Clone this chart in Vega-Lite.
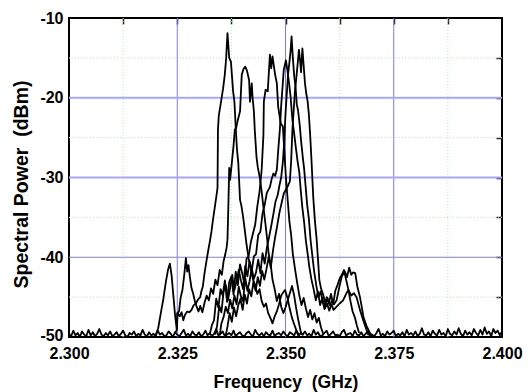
{
  "$schema": "https://vega.github.io/schema/vega-lite/v6.json",
  "width": 433,
  "height": 319,
  "autosize": {"type": "none"},
  "padding": {"left": 69, "top": 18, "right": 29, "bottom": 55},
  "background": "white",
  "config": {"view": {"stroke": "black", "strokeWidth": 2}, "font": "Liberation Sans"},
  "datasets": {
    "spectra": [
      {"s":"T1","f":2.3200,"p":-49.8},{"s":"T1","f":2.3206,"p":-48.9},{"s":"T1","f":2.3212,"p":-47.0},{"s":"T1","f":2.3218,"p":-45.2},{"s":"T1","f":2.3224,"p":-43.0},{"s":"T1","f":2.3229,"p":-41.5},{"s":"T1","f":2.3233,"p":-40.8},{"s":"T1","f":2.3237,"p":-42.3},{"s":"T1","f":2.3241,"p":-44.8},{"s":"T1","f":2.3245,"p":-47.3},{"s":"T1","f":2.3249,"p":-49.1},{"s":"T1","f":2.3251,"p":-47.0},{"s":"T1","f":2.3256,"p":-47.4},{"s":"T1","f":2.3260,"p":-46.9},{"s":"T1","f":2.3264,"p":-47.9},{"s":"T1","f":2.3268,"p":-47.2},{"s":"T1","f":2.3273,"p":-46.8},{"s":"T1","f":2.3278,"p":-46.9},{"s":"T1","f":2.3283,"p":-46.6},{"s":"T1","f":2.3288,"p":-46.0},{"s":"T1","f":2.3293,"p":-45.8},{"s":"T1","f":2.3298,"p":-45.3},{"s":"T1","f":2.3303,"p":-45.0},{"s":"T1","f":2.3306,"p":-44.2},{"s":"T1","f":2.3309,"p":-43.7},{"s":"T1","f":2.3313,"p":-42.0},{"s":"T1","f":2.3318,"p":-40.3},{"s":"T1","f":2.3322,"p":-39.0},{"s":"T1","f":2.3326,"p":-37.8},{"s":"T1","f":2.3329,"p":-36.8},{"s":"T1","f":2.3332,"p":-35.5},{"s":"T1","f":2.3336,"p":-34.0},{"s":"T1","f":2.3340,"p":-32.5},{"s":"T1","f":2.3343,"p":-31.3},{"s":"T1","f":2.3344,"p":-24.0},{"s":"T1","f":2.3346,"p":-22.2},{"s":"T1","f":2.3350,"p":-20.9},{"s":"T1","f":2.3356,"p":-18.8},{"s":"T1","f":2.3360,"p":-17.0},{"s":"T1","f":2.3363,"p":-15.0},{"s":"T1","f":2.3366,"p":-11.9},{"s":"T1","f":2.3370,"p":-15.0},{"s":"T1","f":2.3374,"p":-15.5},{"s":"T1","f":2.3379,"p":-19.2},{"s":"T1","f":2.3382,"p":-20.5},{"s":"T1","f":2.3386,"p":-24.7},{"s":"T1","f":2.3388,"p":-26.5},{"s":"T1","f":2.3391,"p":-28.2},{"s":"T1","f":2.3395,"p":-32.8},{"s":"T1","f":2.3398,"p":-33.5},{"s":"T1","f":2.3402,"p":-34.9},{"s":"T1","f":2.3406,"p":-36.6},{"s":"T1","f":2.3410,"p":-38.4},{"s":"T1","f":2.3415,"p":-40.2},{"s":"T1","f":2.3420,"p":-41.5},{"s":"T1","f":2.3425,"p":-42.8},{"s":"T1","f":2.3430,"p":-43.5},{"s":"T1","f":2.3435,"p":-44.6},{"s":"T1","f":2.3440,"p":-44.0},{"s":"T1","f":2.3445,"p":-45.5},{"s":"T1","f":2.3450,"p":-46.2},{"s":"T1","f":2.3455,"p":-45.8},{"s":"T1","f":2.3460,"p":-47.0},{"s":"T1","f":2.3465,"p":-47.6},{"s":"T1","f":2.3470,"p":-48.3},{"s":"T1","f":2.3475,"p":-47.4},{"s":"T1","f":2.3480,"p":-46.8},{"s":"T1","f":2.3485,"p":-45.9},{"s":"T1","f":2.3490,"p":-44.8},{"s":"T1","f":2.3495,"p":-44.4},{"s":"T1","f":2.3499,"p":-44.1},{"s":"T1","f":2.3505,"p":-45.2},{"s":"T1","f":2.3510,"p":-46.5},{"s":"T1","f":2.3515,"p":-47.6},{"s":"T1","f":2.3520,"p":-48.4},{"s":"T1","f":2.3526,"p":-49.3},{"s":"T1","f":2.3532,"p":-49.8},
      {"s":"T2","f":2.3244,"p":-49.6},{"s":"T2","f":2.3249,"p":-49.1},{"s":"T2","f":2.3250,"p":-47.0},{"s":"T2","f":2.3254,"p":-46.8},{"s":"T2","f":2.3258,"p":-45.0},{"s":"T2","f":2.3262,"p":-44.1},{"s":"T2","f":2.3266,"p":-42.3},{"s":"T2","f":2.3270,"p":-40.1},{"s":"T2","f":2.3273,"p":-41.8},{"s":"T2","f":2.3276,"p":-41.0},{"s":"T2","f":2.3279,"p":-42.4},{"s":"T2","f":2.3283,"p":-43.9},{"s":"T2","f":2.3287,"p":-44.6},{"s":"T2","f":2.3291,"p":-45.6},{"s":"T2","f":2.3295,"p":-46.2},{"s":"T2","f":2.3299,"p":-46.8},{"s":"T2","f":2.3303,"p":-46.1},{"s":"T2","f":2.3308,"p":-46.9},{"s":"T2","f":2.3313,"p":-45.7},{"s":"T2","f":2.3318,"p":-44.8},{"s":"T2","f":2.3323,"p":-45.4},{"s":"T2","f":2.3328,"p":-43.9},{"s":"T2","f":2.3333,"p":-44.6},{"s":"T2","f":2.3338,"p":-42.8},{"s":"T2","f":2.3343,"p":-43.5},{"s":"T2","f":2.3348,"p":-41.6},{"s":"T2","f":2.3353,"p":-42.2},{"s":"T2","f":2.3357,"p":-40.5},{"s":"T2","f":2.3361,"p":-39.6},{"s":"T2","f":2.3364,"p":-38.8},{"s":"T2","f":2.3366,"p":-37.8},{"s":"T2","f":2.3368,"p":-33.7},{"s":"T2","f":2.3370,"p":-28.8},{"s":"T2","f":2.3372,"p":-30.3},{"s":"T2","f":2.3376,"p":-28.2},{"s":"T2","f":2.3380,"p":-26.0},{"s":"T2","f":2.3383,"p":-24.0},{"s":"T2","f":2.3386,"p":-23.8},{"s":"T2","f":2.3389,"p":-23.0},{"s":"T2","f":2.3395,"p":-21.7},{"s":"T2","f":2.3399,"p":-17.1},{"s":"T2","f":2.3403,"p":-16.4},{"s":"T2","f":2.3407,"p":-16.1},{"s":"T2","f":2.3411,"p":-16.6},{"s":"T2","f":2.3416,"p":-17.8},{"s":"T2","f":2.3418,"p":-20.5},{"s":"T2","f":2.3422,"p":-18.2},{"s":"T2","f":2.3424,"p":-20.0},{"s":"T2","f":2.3427,"p":-21.7},{"s":"T2","f":2.3429,"p":-24.0},{"s":"T2","f":2.3433,"p":-27.4},{"s":"T2","f":2.3436,"p":-28.7},{"s":"T2","f":2.3441,"p":-30.1},{"s":"T2","f":2.3445,"p":-31.8},{"s":"T2","f":2.3449,"p":-33.7},{"s":"T2","f":2.3453,"p":-35.5},{"s":"T2","f":2.3457,"p":-37.4},{"s":"T2","f":2.3461,"p":-39.5},{"s":"T2","f":2.3466,"p":-41.0},{"s":"T2","f":2.3470,"p":-42.8},{"s":"T2","f":2.3475,"p":-44.0},{"s":"T2","f":2.3480,"p":-45.5},{"s":"T2","f":2.3485,"p":-44.6},{"s":"T2","f":2.3490,"p":-46.2},{"s":"T2","f":2.3495,"p":-47.0},{"s":"T2","f":2.3500,"p":-46.3},{"s":"T2","f":2.3505,"p":-45.4},{"s":"T2","f":2.3510,"p":-44.5},{"s":"T2","f":2.3515,"p":-43.6},{"s":"T2","f":2.3520,"p":-44.8},{"s":"T2","f":2.3525,"p":-46.5},{"s":"T2","f":2.3530,"p":-48.0},{"s":"T2","f":2.3535,"p":-49.3},{"s":"T2","f":2.3540,"p":-49.8},
      {"s":"T3","f":2.3325,"p":-49.7},{"s":"T3","f":2.3330,"p":-48.5},{"s":"T3","f":2.3335,"p":-47.9},{"s":"T3","f":2.3340,"p":-45.2},{"s":"T3","f":2.3345,"p":-46.3},{"s":"T3","f":2.3350,"p":-44.0},{"s":"T3","f":2.3355,"p":-44.8},{"s":"T3","f":2.3360,"p":-42.9},{"s":"T3","f":2.3365,"p":-45.6},{"s":"T3","f":2.3370,"p":-43.1},{"s":"T3","f":2.3375,"p":-42.4},{"s":"T3","f":2.3380,"p":-44.7},{"s":"T3","f":2.3385,"p":-41.8},{"s":"T3","f":2.3390,"p":-43.5},{"s":"T3","f":2.3395,"p":-40.9},{"s":"T3","f":2.3400,"p":-42.0},{"s":"T3","f":2.3405,"p":-43.3},{"s":"T3","f":2.3410,"p":-40.2},{"s":"T3","f":2.3415,"p":-39.8},{"s":"T3","f":2.3420,"p":-38.1},{"s":"T3","f":2.3425,"p":-37.0},{"s":"T3","f":2.3430,"p":-35.9},{"s":"T3","f":2.3435,"p":-33.6},{"s":"T3","f":2.3440,"p":-31.8},{"s":"T3","f":2.3445,"p":-29.0},{"s":"T3","f":2.3449,"p":-24.7},{"s":"T3","f":2.3450,"p":-20.5},{"s":"T3","f":2.3454,"p":-19.0},{"s":"T3","f":2.3459,"p":-19.2},{"s":"T3","f":2.3464,"p":-14.6},{"s":"T3","f":2.3467,"p":-16.3},{"s":"T3","f":2.3470,"p":-14.8},{"s":"T3","f":2.3476,"p":-17.1},{"s":"T3","f":2.3480,"p":-18.2},{"s":"T3","f":2.3483,"p":-21.1},{"s":"T3","f":2.3489,"p":-23.2},{"s":"T3","f":2.3494,"p":-23.6},{"s":"T3","f":2.3497,"p":-26.5},{"s":"T3","f":2.3501,"p":-30.0},{"s":"T3","f":2.3505,"p":-32.8},{"s":"T3","f":2.3509,"p":-35.5},{"s":"T3","f":2.3513,"p":-37.2},{"s":"T3","f":2.3517,"p":-39.6},{"s":"T3","f":2.3522,"p":-41.5},{"s":"T3","f":2.3527,"p":-43.2},{"s":"T3","f":2.3532,"p":-44.8},{"s":"T3","f":2.3537,"p":-46.0},{"s":"T3","f":2.3542,"p":-45.1},{"s":"T3","f":2.3547,"p":-46.4},{"s":"T3","f":2.3552,"p":-47.5},{"s":"T3","f":2.3557,"p":-46.6},{"s":"T3","f":2.3562,"p":-47.8},{"s":"T3","f":2.3567,"p":-47.0},{"s":"T3","f":2.3572,"p":-48.2},{"s":"T3","f":2.3577,"p":-47.6},{"s":"T3","f":2.3582,"p":-48.8},{"s":"T3","f":2.3587,"p":-49.6},
      {"s":"T4","f":2.3338,"p":-49.7},{"s":"T4","f":2.3342,"p":-48.6},{"s":"T4","f":2.3347,"p":-46.1},{"s":"T4","f":2.3352,"p":-46.9},{"s":"T4","f":2.3357,"p":-44.3},{"s":"T4","f":2.3362,"p":-43.5},{"s":"T4","f":2.3367,"p":-45.4},{"s":"T4","f":2.3372,"p":-43.9},{"s":"T4","f":2.3377,"p":-42.2},{"s":"T4","f":2.3382,"p":-44.1},{"s":"T4","f":2.3387,"p":-43.0},{"s":"T4","f":2.3392,"p":-41.6},{"s":"T4","f":2.3397,"p":-42.9},{"s":"T4","f":2.3402,"p":-44.0},{"s":"T4","f":2.3407,"p":-41.1},{"s":"T4","f":2.3412,"p":-42.4},{"s":"T4","f":2.3417,"p":-40.5},{"s":"T4","f":2.3422,"p":-41.7},{"s":"T4","f":2.3427,"p":-39.9},{"s":"T4","f":2.3432,"p":-39.6},{"s":"T4","f":2.3437,"p":-37.2},{"s":"T4","f":2.3442,"p":-36.8},{"s":"T4","f":2.3447,"p":-34.5},{"s":"T4","f":2.3452,"p":-33.4},{"s":"T4","f":2.3457,"p":-31.9},{"s":"T4","f":2.3464,"p":-31.2},{"s":"T4","f":2.3468,"p":-30.2},{"s":"T4","f":2.3472,"p":-29.5},{"s":"T4","f":2.3476,"p":-29.8},{"s":"T4","f":2.3480,"p":-29.0},{"s":"T4","f":2.3484,"p":-26.0},{"s":"T4","f":2.3487,"p":-24.0},{"s":"T4","f":2.3490,"p":-21.0},{"s":"T4","f":2.3493,"p":-18.8},{"s":"T4","f":2.3496,"p":-16.5},{"s":"T4","f":2.3501,"p":-15.3},{"s":"T4","f":2.3505,"p":-16.8},{"s":"T4","f":2.3509,"p":-18.5},{"s":"T4","f":2.3512,"p":-20.0},{"s":"T4","f":2.3516,"p":-22.8},{"s":"T4","f":2.3520,"p":-24.5},{"s":"T4","f":2.3524,"p":-26.3},{"s":"T4","f":2.3528,"p":-28.0},{"s":"T4","f":2.3532,"p":-29.4},{"s":"T4","f":2.3535,"p":-31.5},{"s":"T4","f":2.3539,"p":-33.8},{"s":"T4","f":2.3543,"p":-35.6},{"s":"T4","f":2.3547,"p":-37.9},{"s":"T4","f":2.3551,"p":-39.5},{"s":"T4","f":2.3555,"p":-41.2},{"s":"T4","f":2.3560,"p":-42.8},{"s":"T4","f":2.3565,"p":-44.0},{"s":"T4","f":2.3570,"p":-45.4},{"s":"T4","f":2.3575,"p":-44.3},{"s":"T4","f":2.3580,"p":-46.0},{"s":"T4","f":2.3585,"p":-45.1},{"s":"T4","f":2.3590,"p":-46.5},{"s":"T4","f":2.3595,"p":-45.0},{"s":"T4","f":2.3600,"p":-45.8},{"s":"T4","f":2.3605,"p":-44.6},{"s":"T4","f":2.3610,"p":-45.9},{"s":"T4","f":2.3615,"p":-44.2},{"s":"T4","f":2.3620,"p":-43.5},{"s":"T4","f":2.3625,"p":-42.7},{"s":"T4","f":2.3630,"p":-42.2},{"s":"T4","f":2.3635,"p":-41.6},{"s":"T4","f":2.3640,"p":-42.8},{"s":"T4","f":2.3645,"p":-44.0},{"s":"T4","f":2.3650,"p":-45.5},{"s":"T4","f":2.3655,"p":-46.8},{"s":"T4","f":2.3660,"p":-47.5},{"s":"T4","f":2.3665,"p":-48.6},{"s":"T4","f":2.3670,"p":-49.5},
      {"s":"T5","f":2.3348,"p":-49.8},{"s":"T5","f":2.3352,"p":-48.3},{"s":"T5","f":2.3357,"p":-47.5},{"s":"T5","f":2.3362,"p":-46.2},{"s":"T5","f":2.3367,"p":-47.0},{"s":"T5","f":2.3372,"p":-45.3},{"s":"T5","f":2.3377,"p":-46.4},{"s":"T5","f":2.3382,"p":-44.8},{"s":"T5","f":2.3387,"p":-45.9},{"s":"T5","f":2.3392,"p":-43.7},{"s":"T5","f":2.3397,"p":-44.9},{"s":"T5","f":2.3402,"p":-45.5},{"s":"T5","f":2.3407,"p":-42.6},{"s":"T5","f":2.3412,"p":-44.2},{"s":"T5","f":2.3417,"p":-43.0},{"s":"T5","f":2.3422,"p":-41.4},{"s":"T5","f":2.3427,"p":-42.7},{"s":"T5","f":2.3432,"p":-41.9},{"s":"T5","f":2.3437,"p":-40.3},{"s":"T5","f":2.3442,"p":-42.0},{"s":"T5","f":2.3447,"p":-39.5},{"s":"T5","f":2.3452,"p":-40.8},{"s":"T5","f":2.3457,"p":-38.8},{"s":"T5","f":2.3462,"p":-37.5},{"s":"T5","f":2.3467,"p":-36.1},{"s":"T5","f":2.3472,"p":-34.6},{"s":"T5","f":2.3477,"p":-33.0},{"s":"T5","f":2.3482,"p":-32.2},{"s":"T5","f":2.3486,"p":-31.0},{"s":"T5","f":2.3490,"p":-30.0},{"s":"T5","f":2.3494,"p":-28.0},{"s":"T5","f":2.3497,"p":-25.5},{"s":"T5","f":2.3500,"p":-22.0},{"s":"T5","f":2.3503,"p":-19.5},{"s":"T5","f":2.3506,"p":-17.0},{"s":"T5","f":2.3509,"p":-15.6},{"s":"T5","f":2.3512,"p":-14.0},{"s":"T5","f":2.3514,"p":-12.3},{"s":"T5","f":2.3517,"p":-15.0},{"s":"T5","f":2.3520,"p":-17.2},{"s":"T5","f":2.3523,"p":-18.5},{"s":"T5","f":2.3526,"p":-20.8},{"s":"T5","f":2.3529,"p":-21.6},{"s":"T5","f":2.3533,"p":-23.5},{"s":"T5","f":2.3536,"p":-25.4},{"s":"T5","f":2.3540,"p":-27.5},{"s":"T5","f":2.3543,"p":-28.9},{"s":"T5","f":2.3546,"p":-30.8},{"s":"T5","f":2.3550,"p":-33.4},{"s":"T5","f":2.3554,"p":-35.2},{"s":"T5","f":2.3558,"p":-37.9},{"s":"T5","f":2.3562,"p":-39.8},{"s":"T5","f":2.3566,"p":-41.7},{"s":"T5","f":2.3571,"p":-43.5},{"s":"T5","f":2.3576,"p":-45.0},{"s":"T5","f":2.3581,"p":-44.3},{"s":"T5","f":2.3586,"p":-45.6},{"s":"T5","f":2.3591,"p":-46.4},{"s":"T5","f":2.3596,"p":-45.8},{"s":"T5","f":2.3601,"p":-46.7},{"s":"T5","f":2.3606,"p":-45.9},{"s":"T5","f":2.3611,"p":-46.6},{"s":"T5","f":2.3618,"p":-46.2},{"s":"T5","f":2.3625,"p":-45.8},{"s":"T5","f":2.3633,"p":-45.4},{"s":"T5","f":2.3640,"p":-44.6},{"s":"T5","f":2.3645,"p":-44.1},{"s":"T5","f":2.3652,"p":-44.8},{"s":"T5","f":2.3658,"p":-44.5},{"s":"T5","f":2.3664,"p":-45.0},{"s":"T5","f":2.3672,"p":-46.6},{"s":"T5","f":2.3680,"p":-48.0},{"s":"T5","f":2.3687,"p":-49.1},{"s":"T5","f":2.3692,"p":-49.8},
      {"s":"T6","f":2.3362,"p":-49.8},{"s":"T6","f":2.3366,"p":-48.7},{"s":"T6","f":2.3371,"p":-47.0},{"s":"T6","f":2.3376,"p":-48.1},{"s":"T6","f":2.3381,"p":-46.3},{"s":"T6","f":2.3386,"p":-47.4},{"s":"T6","f":2.3391,"p":-46.0},{"s":"T6","f":2.3396,"p":-45.2},{"s":"T6","f":2.3401,"p":-46.6},{"s":"T6","f":2.3406,"p":-44.7},{"s":"T6","f":2.3411,"p":-45.8},{"s":"T6","f":2.3416,"p":-44.0},{"s":"T6","f":2.3421,"p":-44.9},{"s":"T6","f":2.3426,"p":-43.1},{"s":"T6","f":2.3431,"p":-44.2},{"s":"T6","f":2.3436,"p":-42.5},{"s":"T6","f":2.3441,"p":-43.6},{"s":"T6","f":2.3446,"p":-41.7},{"s":"T6","f":2.3451,"p":-42.8},{"s":"T6","f":2.3456,"p":-41.5},{"s":"T6","f":2.3461,"p":-40.0},{"s":"T6","f":2.3466,"p":-41.3},{"s":"T6","f":2.3471,"p":-39.2},{"s":"T6","f":2.3476,"p":-37.5},{"s":"T6","f":2.3481,"p":-36.0},{"s":"T6","f":2.3486,"p":-34.4},{"s":"T6","f":2.3491,"p":-33.2},{"s":"T6","f":2.3496,"p":-32.0},{"s":"T6","f":2.3501,"p":-31.5},{"s":"T6","f":2.3506,"p":-31.0},{"s":"T6","f":2.3510,"p":-30.5},{"s":"T6","f":2.3513,"p":-28.0},{"s":"T6","f":2.3516,"p":-24.0},{"s":"T6","f":2.3519,"p":-21.5},{"s":"T6","f":2.3522,"p":-19.0},{"s":"T6","f":2.3525,"p":-17.5},{"s":"T6","f":2.3528,"p":-15.8},{"s":"T6","f":2.3531,"p":-14.0},{"s":"T6","f":2.3534,"p":-15.5},{"s":"T6","f":2.3536,"p":-16.8},{"s":"T6","f":2.3539,"p":-13.8},{"s":"T6","f":2.3542,"p":-16.0},{"s":"T6","f":2.3545,"p":-18.2},{"s":"T6","f":2.3548,"p":-19.5},{"s":"T6","f":2.3551,"p":-20.4},{"s":"T6","f":2.3554,"p":-22.1},{"s":"T6","f":2.3557,"p":-24.7},{"s":"T6","f":2.3560,"p":-27.8},{"s":"T6","f":2.3564,"p":-32.4},{"s":"T6","f":2.3568,"p":-35.5},{"s":"T6","f":2.3572,"p":-37.8},{"s":"T6","f":2.3575,"p":-40.2},{"s":"T6","f":2.3578,"p":-42.8},{"s":"T6","f":2.3582,"p":-43.9},{"s":"T6","f":2.3587,"p":-44.7},{"s":"T6","f":2.3592,"p":-45.8},{"s":"T6","f":2.3597,"p":-45.1},{"s":"T6","f":2.3602,"p":-46.0},{"s":"T6","f":2.3607,"p":-45.5},{"s":"T6","f":2.3612,"p":-45.9},{"s":"T6","f":2.3618,"p":-45.4},{"s":"T6","f":2.3624,"p":-43.8},{"s":"T6","f":2.3630,"p":-42.4},{"s":"T6","f":2.3637,"p":-41.8},{"s":"T6","f":2.3642,"p":-42.5},{"s":"T6","f":2.3647,"p":-41.3},{"s":"T6","f":2.3652,"p":-42.2},{"s":"T6","f":2.3656,"p":-41.9},{"s":"T6","f":2.3661,"p":-42.0},{"s":"T6","f":2.3666,"p":-43.7},{"s":"T6","f":2.3672,"p":-45.0},{"s":"T6","f":2.3676,"p":-46.2},{"s":"T6","f":2.3680,"p":-47.5},{"s":"T6","f":2.3687,"p":-48.6},{"s":"T6","f":2.3695,"p":-49.5},{"s":"T6","f":2.3700,"p":-49.8},
      {"s":"F","f":2.3000,"p":-49.6},{"s":"F","f":2.3005,"p":-49.9},{"s":"F","f":2.3010,"p":-49.2},{"s":"F","f":2.3015,"p":-49.8},{"s":"F","f":2.3020,"p":-49.5},{"s":"F","f":2.3025,"p":-50.0},{"s":"F","f":2.3030,"p":-49.3},{"s":"F","f":2.3035,"p":-49.7},{"s":"F","f":2.3040,"p":-49.9},{"s":"F","f":2.3045,"p":-49.1},
      {"s":"F","f":2.3050,"p":-49.8},{"s":"F","f":2.3055,"p":-49.4},{"s":"F","f":2.3060,"p":-49.9},{"s":"F","f":2.3065,"p":-49.6},{"s":"F","f":2.3070,"p":-49.0},{"s":"F","f":2.3075,"p":-49.7},{"s":"F","f":2.3080,"p":-49.9},{"s":"F","f":2.3085,"p":-49.5},{"s":"F","f":2.3090,"p":-49.8},{"s":"F","f":2.3095,"p":-49.3},
      {"s":"F","f":2.3100,"p":-49.9},{"s":"F","f":2.3105,"p":-49.7},{"s":"F","f":2.3110,"p":-49.4},{"s":"F","f":2.3115,"p":-49.9},{"s":"F","f":2.3120,"p":-49.6},{"s":"F","f":2.3125,"p":-49.2},{"s":"F","f":2.3130,"p":-49.8},{"s":"F","f":2.3135,"p":-50.0},{"s":"F","f":2.3140,"p":-49.5},{"s":"F","f":2.3145,"p":-49.7},
      {"s":"F","f":2.3150,"p":-49.3},{"s":"F","f":2.3155,"p":-49.9},{"s":"F","f":2.3160,"p":-49.6},{"s":"F","f":2.3165,"p":-49.8},{"s":"F","f":2.3170,"p":-49.1},{"s":"F","f":2.3175,"p":-49.7},{"s":"F","f":2.3180,"p":-49.9},{"s":"F","f":2.3185,"p":-49.4},{"s":"F","f":2.3190,"p":-49.8},{"s":"F","f":2.3195,"p":-49.6},
      {"s":"F","f":2.3200,"p":-49.9},{"s":"F","f":2.3205,"p":-49.2},{"s":"F","f":2.3210,"p":-49.7},{"s":"F","f":2.3215,"p":-49.5},{"s":"F","f":2.3220,"p":-49.9},{"s":"F","f":2.3225,"p":-49.8},{"s":"F","f":2.3230,"p":-49.3},{"s":"F","f":2.3235,"p":-49.6},{"s":"F","f":2.3240,"p":-50.0},{"s":"F","f":2.3245,"p":-49.4},
      {"s":"F","f":2.3250,"p":-49.7},{"s":"F","f":2.3255,"p":-49.9},{"s":"F","f":2.3260,"p":-49.5},{"s":"F","f":2.3265,"p":-49.1},{"s":"F","f":2.3270,"p":-49.8},{"s":"F","f":2.3275,"p":-49.6},{"s":"F","f":2.3280,"p":-49.9},{"s":"F","f":2.3285,"p":-49.3},{"s":"F","f":2.3290,"p":-49.7},{"s":"F","f":2.3295,"p":-49.8},
      {"s":"F","f":2.3300,"p":-49.4},{"s":"F","f":2.3305,"p":-49.9},{"s":"F","f":2.3310,"p":-49.7},{"s":"F","f":2.3315,"p":-49.2},{"s":"F","f":2.3320,"p":-49.8},{"s":"F","f":2.3325,"p":-49.5},{"s":"F","f":2.3330,"p":-49.9},{"s":"F","f":2.3335,"p":-49.6},{"s":"F","f":2.3340,"p":-49.0},{"s":"F","f":2.3345,"p":-49.8},
      {"s":"F","f":2.3350,"p":-49.6},{"s":"F","f":2.3355,"p":-49.3},{"s":"F","f":2.3360,"p":-49.9},{"s":"F","f":2.3365,"p":-49.7},{"s":"F","f":2.3370,"p":-49.5},{"s":"F","f":2.3375,"p":-49.8},{"s":"F","f":2.3380,"p":-49.2},{"s":"F","f":2.3385,"p":-49.9},{"s":"F","f":2.3390,"p":-49.6},{"s":"F","f":2.3395,"p":-49.4},
      {"s":"F","f":2.3400,"p":-49.8},{"s":"F","f":2.3405,"p":-49.9},{"s":"F","f":2.3410,"p":-49.5},{"s":"F","f":2.3415,"p":-49.3},{"s":"F","f":2.3420,"p":-49.7},{"s":"F","f":2.3425,"p":-49.9},{"s":"F","f":2.3430,"p":-49.1},{"s":"F","f":2.3435,"p":-49.6},{"s":"F","f":2.3440,"p":-49.8},{"s":"F","f":2.3445,"p":-49.5},
      {"s":"F","f":2.3450,"p":-49.9},{"s":"F","f":2.3455,"p":-49.4},{"s":"F","f":2.3460,"p":-49.7},{"s":"F","f":2.3465,"p":-49.8},{"s":"F","f":2.3470,"p":-49.2},{"s":"F","f":2.3475,"p":-49.9},{"s":"F","f":2.3480,"p":-49.6},{"s":"F","f":2.3485,"p":-49.5},{"s":"F","f":2.3490,"p":-49.8},{"s":"F","f":2.3495,"p":-49.3},
      {"s":"F","f":2.3500,"p":-49.7},{"s":"F","f":2.3505,"p":-49.9},{"s":"F","f":2.3510,"p":-49.4},{"s":"F","f":2.3515,"p":-49.6},{"s":"F","f":2.3520,"p":-49.8},{"s":"F","f":2.3525,"p":-49.2},{"s":"F","f":2.3530,"p":-49.9},{"s":"F","f":2.3535,"p":-49.5},{"s":"F","f":2.3540,"p":-49.7},{"s":"F","f":2.3545,"p":-49.3},
      {"s":"F","f":2.3550,"p":-49.8},{"s":"F","f":2.3555,"p":-49.6},{"s":"F","f":2.3560,"p":-49.9},{"s":"F","f":2.3565,"p":-49.1},{"s":"F","f":2.3570,"p":-49.7},{"s":"F","f":2.3575,"p":-49.4},{"s":"F","f":2.3580,"p":-49.9},{"s":"F","f":2.3585,"p":-49.8},{"s":"F","f":2.3590,"p":-49.5},{"s":"F","f":2.3595,"p":-49.2},
      {"s":"F","f":2.3600,"p":-49.9},{"s":"F","f":2.3605,"p":-49.6},{"s":"F","f":2.3610,"p":-49.3},{"s":"F","f":2.3615,"p":-49.8},{"s":"F","f":2.3620,"p":-49.7},{"s":"F","f":2.3625,"p":-49.9},{"s":"F","f":2.3630,"p":-49.4},{"s":"F","f":2.3635,"p":-49.1},{"s":"F","f":2.3640,"p":-49.8},{"s":"F","f":2.3645,"p":-49.6},
      {"s":"F","f":2.3650,"p":-49.5},{"s":"F","f":2.3655,"p":-49.9},{"s":"F","f":2.3660,"p":-49.2},{"s":"F","f":2.3665,"p":-49.7},{"s":"F","f":2.3670,"p":-49.8},{"s":"F","f":2.3675,"p":-49.4},{"s":"F","f":2.3680,"p":-49.9},{"s":"F","f":2.3685,"p":-49.6},{"s":"F","f":2.3690,"p":-49.3},{"s":"F","f":2.3695,"p":-49.8},
      {"s":"F","f":2.3700,"p":-49.7},{"s":"F","f":2.3705,"p":-49.9},{"s":"F","f":2.3710,"p":-49.5},{"s":"F","f":2.3715,"p":-49.0},{"s":"F","f":2.3720,"p":-49.8},{"s":"F","f":2.3725,"p":-49.6},{"s":"F","f":2.3730,"p":-49.9},{"s":"F","f":2.3735,"p":-49.3},{"s":"F","f":2.3740,"p":-49.7},{"s":"F","f":2.3745,"p":-49.5},
      {"s":"F","f":2.3750,"p":-49.2},{"s":"F","f":2.3755,"p":-49.9},{"s":"F","f":2.3760,"p":-49.6},{"s":"F","f":2.3765,"p":-49.8},{"s":"F","f":2.3770,"p":-49.4},{"s":"F","f":2.3775,"p":-49.9},{"s":"F","f":2.3780,"p":-49.1},{"s":"F","f":2.3785,"p":-49.7},{"s":"F","f":2.3790,"p":-49.5},{"s":"F","f":2.3795,"p":-49.8},
      {"s":"F","f":2.3800,"p":-49.3},{"s":"F","f":2.3805,"p":-49.9},{"s":"F","f":2.3810,"p":-49.6},{"s":"F","f":2.3815,"p":-48.9},{"s":"F","f":2.3820,"p":-49.7},{"s":"F","f":2.3825,"p":-49.8},{"s":"F","f":2.3830,"p":-49.4},{"s":"F","f":2.3835,"p":-49.9},{"s":"F","f":2.3840,"p":-49.2},{"s":"F","f":2.3845,"p":-49.6},
      {"s":"F","f":2.3850,"p":-49.8},{"s":"F","f":2.3855,"p":-49.1},{"s":"F","f":2.3860,"p":-49.7},{"s":"F","f":2.3865,"p":-49.5},{"s":"F","f":2.3870,"p":-49.9},{"s":"F","f":2.3875,"p":-49.0},{"s":"F","f":2.3880,"p":-49.6},{"s":"F","f":2.3885,"p":-49.8},{"s":"F","f":2.3890,"p":-49.3},{"s":"F","f":2.3895,"p":-49.7},
      {"s":"F","f":2.3900,"p":-48.9},{"s":"F","f":2.3905,"p":-49.6},{"s":"F","f":2.3910,"p":-49.9},{"s":"F","f":2.3915,"p":-49.2},{"s":"F","f":2.3920,"p":-49.7},{"s":"F","f":2.3925,"p":-49.4},{"s":"F","f":2.3930,"p":-49.8},{"s":"F","f":2.3935,"p":-49.0},{"s":"F","f":2.3940,"p":-49.5},{"s":"F","f":2.3945,"p":-49.8},
      {"s":"F","f":2.3950,"p":-49.1},{"s":"F","f":2.3955,"p":-49.7},{"s":"F","f":2.3960,"p":-48.8},{"s":"F","f":2.3965,"p":-49.6},{"s":"F","f":2.3970,"p":-49.3},{"s":"F","f":2.3975,"p":-49.9},{"s":"F","f":2.3980,"p":-49.0},{"s":"F","f":2.3985,"p":-49.5},{"s":"F","f":2.3990,"p":-49.2},{"s":"F","f":2.3995,"p":-49.8},{"s":"F","f":2.4000,"p":-49.3}
    ]
  },
  "layer": [
    {
      "data": {"values": [{"f": 2.3125}, {"f": 2.3375}, {"f": 2.3625}, {"f": 2.3875}]},
      "mark": {"type": "rule", "color": "#b4f0b4", "strokeDash": [1, 2], "strokeWidth": 1},
      "encoding": {
        "x": {"field": "f", "type": "quantitative", "scale": {"domain": [2.3, 2.4], "nice": false, "zero": false},
          "axis": {"orient": "top", "values": [2.3125, 2.325, 2.3375, 2.35, 2.3625, 2.375, 2.3875], "labels": false, "domain": false, "grid": false, "ticks": true, "tickSize": -6, "tickColor": "#222222", "tickWidth": 1.5, "title": null}}
      }
    },
    {
      "data": {"values": [{"p": -15}, {"p": -25}, {"p": -35}, {"p": -45}]},
      "mark": {"type": "rule", "color": "#b4f0b4", "strokeDash": [1, 2], "strokeWidth": 1},
      "encoding": {
        "y": {"field": "p", "type": "quantitative", "scale": {"domain": [-50, -10], "nice": false, "zero": false},
          "axis": {"orient": "right", "values": [-45, -40, -35, -30, -25, -20, -15], "labels": false, "domain": false, "grid": false, "ticks": true, "tickSize": -6, "tickColor": "#222222", "tickWidth": 1.5, "title": null}}
      }
    },
    {
      "data": {"values": [{"f": 2.325}, {"f": 2.35}, {"f": 2.375}]},
      "mark": {"type": "rule", "color": "#7a7af5", "strokeWidth": 1},
      "encoding": {"x": {"field": "f", "type": "quantitative", "axis": null}}
    },
    {
      "data": {"values": [{"p": -20}, {"p": -30}]},
      "mark": {"type": "rule", "color": "#a6a6fb", "strokeWidth": 2},
      "encoding": {"y": {"field": "p", "type": "quantitative", "axis": null}}
    },
    {
      "data": {"values": [{"p": -40}]},
      "mark": {"type": "rule", "color": "#7a7af5", "strokeWidth": 1},
      "encoding": {"y": {"field": "p", "type": "quantitative", "axis": null}}
    },
    {
      "data": {"name": "spectra"},
      "mark": {"type": "line", "color": "black", "strokeWidth": 1.8, "strokeJoin": "round"},
      "encoding": {
        "x": {"field": "f", "type": "quantitative",
          "axis": {"orient": "bottom", "values": [2.3, 2.325, 2.35, 2.375, 2.4], "labelExpr": "format(datum.value, '.3f')", "domain": false, "grid": false, "ticks": false, "labelPadding": 8, "labelFont": "Liberation Sans", "labelFontSize": 16, "labelFontWeight": "bold", "labelColor": "black", "labelFlush": false, "labelOverlap": false,
            "title": "Frequency \u00a0(GHz)", "titleFont": "Liberation Sans", "titleFontSize": 17.5, "titleFontWeight": "bold", "titleColor": "black", "titlePadding": 12}},
        "y": {"field": "p", "type": "quantitative",
          "axis": {"orient": "left", "values": [-50, -40, -30, -20, -10], "labelExpr": "'' + datum.value", "domain": false, "grid": false, "ticks": false, "labelPadding": 6, "labelOffset": {"condition": {"test": "datum.value == -50", "value": -2}, "value": 0}, "labelFont": "Liberation Sans", "labelFontSize": 16, "labelFontWeight": "bold", "labelColor": "black", "labelFlush": false, "labelOverlap": false,
            "title": "Spectral Power \u00a0(dBm)", "titleFont": "Liberation Sans", "titleFontSize": 19.5, "titleFontWeight": "bold", "titleColor": "black", "titlePadding": 8, "titleY": 166}},
        "detail": {"field": "s", "type": "nominal"}
      }
    }
  ]
}
